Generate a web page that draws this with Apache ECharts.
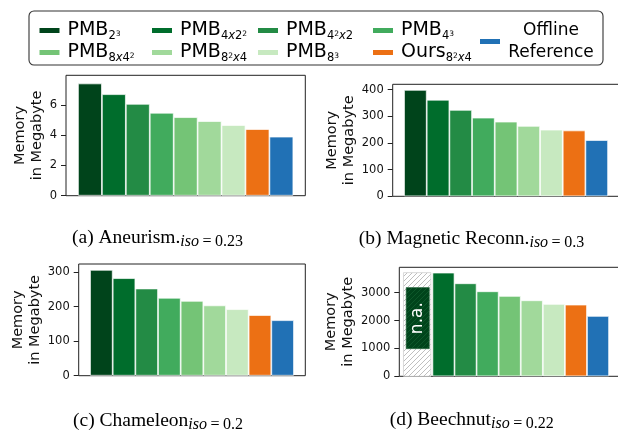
<!DOCTYPE html>
<html>
<head>
<meta charset="utf-8">
<script src="https://cdn.jsdelivr.net/npm/echarts@6/dist/echarts.min.js"></script>
<style>html,body{margin:0;padding:0;background:#fff}#c{width:618px;height:431px}</style>
</head>
<body>
<div id="c"></div>
<script>
// ---- data ----
const categories = ['PMB2³', 'PMB4x2²', 'PMB4²x2', 'PMB4³', 'PMB8x4²', 'PMB8²x4', 'PMB8³', 'Ours8²x4', 'Offline Reference'];
const colors = ['#00441b', '#006d2c', '#238b45', '#41ab5d', '#74c476', '#a1d99b', '#c7e9c0', '#ec7014', '#2171b5'];
const aneurism = [7.43, 6.72, 6.08, 5.49, 5.20, 4.94, 4.68, 4.41, 3.91];
const magnetic = [399, 362, 324, 295, 280, 264, 250, 247, 211];
const chameleon = [307, 283, 253, 226, 217, 204, 193, 176, 161];
const beechnut = [null, 3717, 3335, 3048, 2880, 2725, 2594, 2570, 2163];
// n.a. placeholder for PMB2³ in Beechnut: [x0, x1, y0, y1]
const naHatch = [-0.81, 0.43, 0, 3717];
const naBox = [-0.69, 0.36, 990, 3180];
const ticksA = [0, 2, 4, 6];
const ticksB = [0, 100, 200, 300, 400];
const ticksC = [0, 100, 200, 300];
const ticksD = [0, 1000, 2000, 3000];
const yMax = [7.97, 420, 324, 3908];
const captions = [
  ['(a) Aneurism.', 'iso', '=', '0.23'],
  ['(b) Magnetic Reconn.', 'iso', '=', '0.3'],
  ['(c) Chameleon', 'iso', '=', '0.2'],
  ['(d) Beechnut', 'iso', '=', '0.22']
];
// legend label pieces: [base, [ [style, text], ... ]]
const labelParts = [
  ['PMB', [['s', '2'], ['p', '3']]],
  ['PMB', [['s', '4'], ['sx', 'x'], ['s', '2'], ['p', '2']]],
  ['PMB', [['s', '4'], ['p', '2'], ['sx', 'x'], ['s', '2']]],
  ['PMB', [['s', '4'], ['p', '3']]],
  ['PMB', [['s', '8'], ['sx', 'x'], ['s', '4'], ['p', '2']]],
  ['PMB', [['s', '8'], ['p', '2'], ['sx', 'x'], ['s', '4']]],
  ['PMB', [['s', '8'], ['p', '3']]],
  ['Ours', [['s', '8'], ['p', '2'], ['sx', 'x'], ['s', '4']]],
  null
];

// ---- layout ----
const SANS = 'DejaVu Sans';
const SERIF = 'Liberation Serif';
const grids = [
  {left: 66, top: 75.3, width: 239.3, height: 120.4},
  {left: 392.7, top: 84.3, width: 226.7, height: 112},
  {left: 78.7, top: 264, width: 226.6, height: 111.7},
  {left: 399.3, top: 267.3, width: 220.8, height: 109}
];
const nameGaps = [19, 35, 32, 42];
const tickSets = [ticksA, ticksB, ticksC, ticksD];
const dataSets = [aneurism, magnetic, chameleon, beechnut];
const captionPos = [[157.5, 238], [471.5, 239], [158, 421], [471.7, 420]];

function hatch(bg, fg, step) {
  const c = document.createElement('canvas');
  c.width = step; c.height = step;
  const ctx = c.getContext('2d');
  if (bg) { ctx.fillStyle = bg; ctx.fillRect(0, 0, step, step); }
  ctx.strokeStyle = fg; ctx.lineWidth = 0.9;
  ctx.beginPath();
  ctx.moveTo(0, step); ctx.lineTo(step, 0);
  ctx.moveTo(-2, 2); ctx.lineTo(2, -2);
  ctx.moveTo(step - 2, step + 2); ctx.lineTo(step + 2, step - 2);
  ctx.stroke();
  return c;
}
const lightHatch = {image: hatch('#ffffff', '#b8b8b8', 5), repeat: 'repeat'};
const darkHatch = {image: hatch('#00441b', '#0e5a2c', 5), repeat: 'repeat'};

const chart = echarts.init(document.getElementById('c'), null, {renderer: 'canvas'});

const grid = grids.map(g => Object.assign({}, g, {
  show: true, borderColor: '#222', borderWidth: 1, backgroundColor: 'transparent',
  containLabel: false, outerBoundsMode: 'none'
}));
const xAxis = grids.map((g, i) => ({
  type: 'value', gridIndex: i, min: -1, max: 9, show: false
}));
const yAxis = grids.map((g, i) => ({
  type: 'value', gridIndex: i, min: 0, max: yMax[i],
  splitLine: {show: false},
  axisLine: {show: false, onZero: false},
  axisTick: {show: true, length: 5, lineStyle: {color: '#222', width: 1}, customValues: tickSets[i]},
  axisLabel: {show: true, customValues: tickSets[i], margin: 9, fontSize: 11.5, fontFamily: SANS, color: '#111',
    formatter: v => String(v)},
  name: 'Memory\nin Megabyte', nameLocation: 'middle', nameRotate: 90, nameGap: nameGaps[i],
  nameTextStyle: {fontSize: 14.5, lineHeight: 17, fontFamily: SANS, color: '#111', align: 'center'}
}));

const series = [];
dataSets.forEach((arr, g) => {
  arr.forEach((v, k) => {
    series.push({
      type: 'bar', name: categories[k], xAxisIndex: g, yAxisIndex: g,
      barWidth: '100%', barGap: '-100%',
      data: v == null ? [] : [[k, v]],
      itemStyle: {color: colors[k], borderColor: 'rgba(255,255,255,0.85)', borderWidth: 0.8},
      emphasis: {disabled: true}, silent: true
    });
  });
});
series.push({
  type: 'custom', name: 'n.a.', xAxisIndex: 3, yAxisIndex: 3, silent: true,
  data: [[naHatch[0], naHatch[1], naHatch[2], naHatch[3], naBox[0], naBox[1], naBox[2], naBox[3]]],
  encode: {x: [0, 1], y: [2, 3]},
  renderItem: function (params, api) {
    const a0 = api.coord([api.value(0), api.value(2)]);
    const a1 = api.coord([api.value(1), api.value(3)]);
    const b0 = api.coord([api.value(4), api.value(6)]);
    const b1 = api.coord([api.value(5), api.value(7)]);
    const cx = (b0[0] + b1[0]) / 2, cy = (b0[1] + b1[1]) / 2;
    return {type: 'group', children: [
      {type: 'rect', shape: {x: a0[0], y: a1[1], width: a1[0] - a0[0], height: a0[1] - a1[1]},
        style: {fill: lightHatch, stroke: '#d0d0d0', lineWidth: 0.8}},
      {type: 'rect', shape: {x: b0[0], y: b1[1], width: b1[0] - b0[0], height: b0[1] - b1[1]},
        style: {fill: darkHatch, stroke: '#2c6a42', lineWidth: 0.6}},
      {type: 'text', x: cx, y: cy, rotation: Math.PI / 2,
        style: {text: 'n.a.', x: 0, y: 0, align: 'center', verticalAlign: 'middle',
          fill: '#ffffff', fontSize: 17, fontFamily: SANS}}
    ]};
  }
});

// ---- legend ----
const legRich = {
  m: {fontSize: 19, lineHeight: 24, fontFamily: SANS, color: '#000'},
  s: {fontSize: 11.5, lineHeight: 14, verticalAlign: 'bottom', fontFamily: SANS, color: '#000'},
  sx: {fontSize: 11.5, lineHeight: 14, verticalAlign: 'bottom', fontFamily: SANS, fontStyle: 'italic', color: '#000'},
  p: {fontSize: 7.5, lineHeight: 10, verticalAlign: 'bottom', padding: [0, 0, 4.5, 0], fontFamily: SANS, color: '#000'},
  r: {fontSize: 17, lineHeight: 22, width: 86, align: 'center', fontFamily: SANS, color: '#000'}
};
function legendText(name) {
  const k = categories.indexOf(name);
  const lp = labelParts[k];
  if (!lp) return '{r|Offline}\n{r|Reference}';
  return '{m|' + lp[0] + '}' + lp[1].map(t => '{' + t[0] + '|' + t[1] + '}').join('');
}
const legCols = [39.5, 152, 258, 373, 39.5, 152, 258, 373, 480];
const legRowCenter = [33, 33, 33, 33, 55, 55, 55, 55, 44];
const legend = categories.map((name, k) => ({
  data: [{name: name, icon: 'rect'}],
  left: legCols[k], top: legRowCenter[k] - (k === 8 ? 22 : 12),
  padding: 0, itemWidth: 20, itemHeight: 5, selectedMode: false,
  itemStyle: {borderWidth: 0},
  formatter: legendText,
  textStyle: {rich: legRich, padding: [0, 0, 0, 3]}
}));

// ---- captions & legend frame ----
const graphic = [
  {type: 'rect', shape: {x: 29, y: 11, width: 574, height: 54, r: 5},
    style: {fill: 'none', stroke: '#333', lineWidth: 1.1}, silent: true, z: -1}
];
const capRich = {
  n: {fontFamily: SERIF, fontSize: 19.5, lineHeight: 24, color: '#000'},
  i: {fontFamily: SERIF, fontStyle: 'italic', fontSize: 16, lineHeight: 18, verticalAlign: 'bottom', color: '#000'},
  e: {fontFamily: SERIF, fontSize: 16, lineHeight: 18, verticalAlign: 'bottom', color: '#000', padding: [0, 3.5, 0, 3.5]},
  u: {fontFamily: SERIF, fontSize: 16, lineHeight: 18, verticalAlign: 'bottom', color: '#000'}
};
captions.forEach((c, i) => {
  graphic.push({
    type: 'text', x: captionPos[i][0], y: captionPos[i][1], silent: true,
    style: {text: '{n|' + c[0] + '}{i|' + c[1] + '}{e|' + c[2] + '}{u|' + c[3] + '}', rich: capRich,
      align: 'center', verticalAlign: 'middle'}
  });
});

chart.setOption({
  animation: false,
  backgroundColor: '#ffffff',
  grid: grid, xAxis: xAxis, yAxis: yAxis, series: series,
  legend: legend, graphic: graphic
});
</script>
</body>
</html>
